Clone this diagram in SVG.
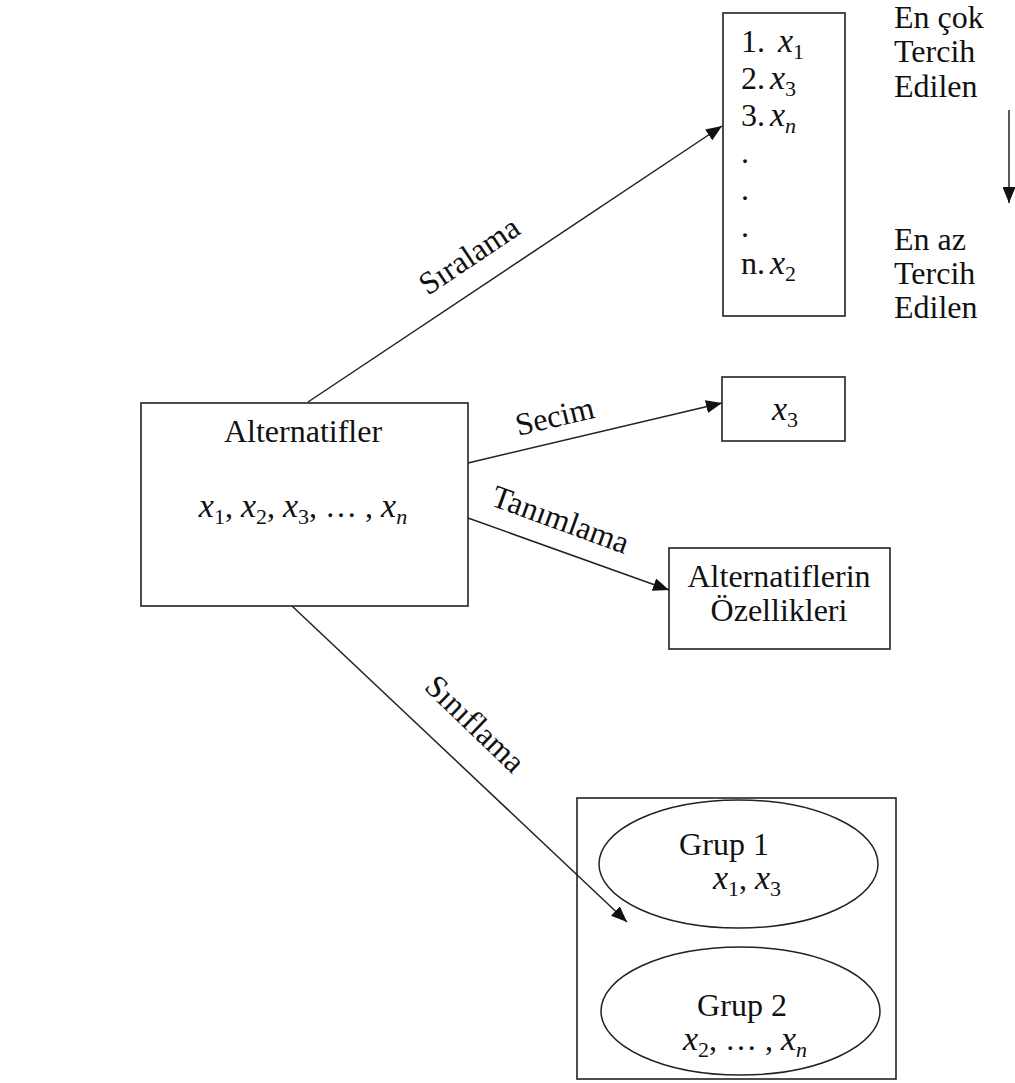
<svg xmlns="http://www.w3.org/2000/svg" width="1015" height="1083" viewBox="0 0 1015 1083">
<style>
  .box { fill: #fff; stroke: #222; stroke-width: 1.6; }
  .ell { fill: none; stroke: #222; stroke-width: 1.5; }
  .ln { stroke: #222; stroke-width: 1.5; fill: none; marker-end: url(#ah); }
  text { font-family: "Liberation Serif", "Times New Roman", serif; font-size: 32px; fill: #111; }
  .mi { font-style: italic; font-size: 34px; }
  .sub { font-size: 22px; font-style: normal; }
  .subi { font-size: 22px; font-style: italic; }
  .c { text-anchor: middle; }
</style>
<defs>
  <marker id="ah" markerUnits="userSpaceOnUse" markerWidth="17" markerHeight="13" refX="16" refY="6.5" orient="auto">
    <path d="M0,0 L16,6.5 L0,13 z" fill="#111"/>
  </marker>
</defs>
<rect width="1015" height="1083" fill="#fff"/>

<g id="alternatifler">
  <rect class="box" x="141" y="403" width="327" height="203"/>
  <text class="c" x="303" y="442">Alternatifler</text>
  <text class="c" x="303" y="517"><tspan class="mi">x</tspan><tspan class="sub" dy="7">1</tspan><tspan dy="-7">, </tspan><tspan class="mi">x</tspan><tspan class="sub" dy="7">2</tspan><tspan dy="-7">, </tspan><tspan class="mi">x</tspan><tspan class="sub" dy="7">3</tspan><tspan dy="-7">, … , </tspan><tspan class="mi">x</tspan><tspan class="subi" dy="7">n</tspan></text>
</g>

<g id="siralama-listesi">
  <rect class="box" x="723" y="13" width="122" height="303"/>
  <text x="741" y="52">1.<tspan class="mi" x="778">x</tspan><tspan class="sub" dy="7">1</tspan></text>
  <text x="741" y="89">2.<tspan class="mi" x="770">x</tspan><tspan class="sub" dy="7">3</tspan></text>
  <text x="741" y="126">3.<tspan class="mi" x="770">x</tspan><tspan class="subi" dy="7">n</tspan></text>
  <text x="741" y="163">.</text>
  <text x="741" y="200">.</text>
  <text x="741" y="237">.</text>
  <text x="741" y="274">n.<tspan class="mi" x="770">x</tspan><tspan class="sub" dy="7">2</tspan></text>
</g>

<g id="tercih-etiketleri">
  <text x="894" y="28">En çok</text>
  <text x="894" y="62">Tercih</text>
  <text x="894" y="97">Edilen</text>
  <text x="894" y="250">En az</text>
  <text x="894" y="284">Tercih</text>
  <text x="894" y="318">Edilen</text>
</g>

<g id="secim-sonucu">
  <rect class="box" x="722" y="377" width="123" height="64"/>
  <text class="c" x="785" y="420"><tspan class="mi">x</tspan><tspan class="sub" dy="7">3</tspan></text>
</g>

<g id="ozellikler">
  <rect class="box" x="669" y="548" width="221" height="101"/>
  <text class="c" x="779" y="587">Alternatiflerin</text>
  <text class="c" x="779" y="621">Özellikleri</text>
</g>

<g id="gruplar">
  <rect class="box" x="577" y="798" width="319" height="281"/>
  <ellipse class="ell" cx="738.5" cy="864" rx="139.5" ry="64"/>
  <ellipse class="ell" cx="740.5" cy="1011" rx="139.5" ry="64"/>
  <text class="c" x="724" y="855">Grup 1</text>
  <text class="c" x="747" y="889"><tspan class="mi">x</tspan><tspan class="sub" dy="7">1</tspan><tspan dy="-7">, </tspan><tspan class="mi">x</tspan><tspan class="sub" dy="7">3</tspan></text>
  <text class="c" x="742" y="1016">Grup 2</text>
  <text class="c" x="745" y="1050"><tspan class="mi">x</tspan><tspan class="sub" dy="7">2</tspan><tspan dy="-7">, … , </tspan><tspan class="mi">x</tspan><tspan class="subi" dy="7">n</tspan></text>
</g>

<g id="connectors">
  <line class="ln" x1="308" y1="402" x2="722" y2="126"/>
  <line class="ln" x1="468" y1="463" x2="722" y2="403"/>
  <line class="ln" x1="468" y1="518" x2="669" y2="590"/>
  <line class="ln" x1="292" y1="606" x2="627" y2="922"/>
  <line class="ln" x1="1009" y1="110" x2="1009" y2="203"/>
  <text transform="translate(470,257) rotate(-33.7)" class="c" y="9">Sıralama</text>
  <text transform="translate(555,418) rotate(-13.3)" class="c" y="9">Secim</text>
  <text transform="translate(560,521) rotate(20)" class="c" y="9">Tanımlama</text>
  <text transform="translate(474,725) rotate(44)" class="c" y="9">Sınıflama</text>
</g>
</svg>
